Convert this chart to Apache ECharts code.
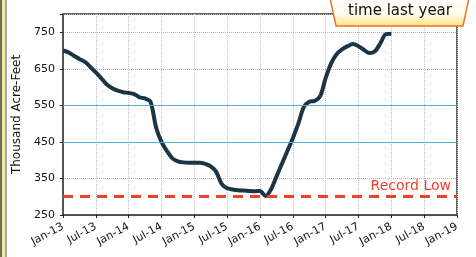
<!DOCTYPE html>
<html>
<head>
<meta charset="utf-8">
<script src="https://cdn.jsdelivr.net/npm/echarts@6/dist/echarts.min.js"></script>
<style>
  html, body { margin: 0; padding: 0; background: #fff; }
  #chart { width: 476px; height: 257px; }
</style>
</head>
<body>
<div id="chart"></div>
<script>
// months since Jan-13
const months = [
  0, 1, 2, 3, 4, 5, 6, 7, 8, 9, 10, 11, 12, 13, 14, 15, 16, 17, 18, 19, 20,
  21, 22, 23, 24, 25, 26, 27, 28, 29, 30, 31, 32, 33, 34, 35, 36, 37, 38, 39, 40,
  41, 42, 43, 44, 45, 46, 47, 48, 49, 50, 51, 52, 53, 54, 55, 56, 57, 58, 59, 60
]
// storage, thousand acre-feet
const storage = [
  700, 695, 686, 677, 669, 655, 640, 624, 607, 597, 590, 586, 584, 581, 572, 569, 560, 490, 450, 425, 405,
  397, 394, 393, 393, 393, 390, 383, 368, 335, 323, 320, 318, 317, 316, 315, 316, 302, 320, 355, 390,
  425, 460, 500, 545, 560, 562, 575, 625, 665, 690, 703, 712, 718, 712, 702, 693, 698, 720, 745, 746
]
const tickLabels = ['Jan-13', 'Jul-13', 'Jan-14', 'Jul-14', 'Jan-15', 'Jul-15', 'Jan-16',
  'Jul-16', 'Jan-17', 'Jul-17', 'Jan-18', 'Jul-18', 'Jan-19']
const recordLow = 300
const blueLines = [450, 550]

const chart = echarts.init(document.getElementById('chart'))
const font = 'DejaVu Sans'

chart.setOption({
  animation: false,
  grid: { left: 63, right: 19, top: 14, bottom: 42 },
  xAxis: {
    type: 'value',
    min: 0,
    max: 72,
    interval: 6,
    axisLine: { lineStyle: { color: '#222', width: 1.5 } },
    axisTick: { show: true, length: 3, lineStyle: { color: '#222' } },
    axisLabel: {
      rotate: 28,
      fontFamily: font,
      fontSize: 11,
      color: '#111',
      margin: 11,
      formatter: v => tickLabels[v / 6]
    },
    splitLine: { show: true, lineStyle: { color: '#c4c0d4', type: 'dotted', width: 1 } }
  },
  yAxis: {
    type: 'value',
    min: 250,
    max: 800,
    interval: 100,
    name: 'Thousand Acre-Feet',
    nameLocation: 'middle',
    nameGap: 40,
    nameTextStyle: { fontFamily: font, fontSize: 12, color: '#111' },
    axisLine: { show: true, lineStyle: { color: '#222', width: 1.5 } },
    axisTick: { show: true, length: 3, lineStyle: { color: '#222' } },
    axisLabel: {
      fontFamily: font,
      fontSize: 11,
      color: '#111',
      margin: 8,
      formatter: v => (v === 800 ? '' : String(v))
    },
    splitLine: { show: true, lineStyle: { color: '#b4b4bc', type: 'dotted', width: 1 } }
  },
  graphic: [
    { type: 'rect', shape: { x: 0, y: 0, width: 5, height: 257 }, style: { fill: '#f3e9a0' } },
    { type: 'line', shape: { x1: 1, y1: 0, x2: 1, y2: 257 }, style: { stroke: '#444', lineWidth: 1.5 } },
    { type: 'line', shape: { x1: 6, y1: 0, x2: 6, y2: 257 }, style: { stroke: '#555', lineWidth: 1 } },
    { type: 'line', shape: { x1: 63, y1: 14, x2: 457, y2: 14 }, style: { stroke: '#333', lineWidth: 1.5 } },
    { type: 'line', shape: { x1: 457, y1: 14, x2: 457, y2: 215 }, style: { stroke: '#333', lineWidth: 1.5 } },
    {
      type: 'polygon',
      shape: { points: [[330, -2], [469, -2], [463, 26], [336, 26]] },
      style: {
        fill: new echarts.graphic.LinearGradient(0, 0, 0, 1, [
          { offset: 0, color: '#ffffff' },
          { offset: 0.6, color: '#fffbe8' },
          { offset: 1, color: '#fbe27a' }
        ]),
        stroke: '#e8742a',
        lineWidth: 1.5
      },
      z: 10
    },
    {
      type: 'text',
      x: 400,
      y: 11,
      style: {
        text: 'time last year',
        fontFamily: font,
        fontSize: 15,
        fill: '#111',
        align: 'center',
        verticalAlign: 'middle'
      },
      z: 11
    }
  ],
  series: [
    {
      type: 'line',
      data: [],
      z: 1,
      markLine: {
        silent: true,
        symbol: 'none',
        label: { show: false },
        lineStyle: { color: '#4fb3cf', type: 'solid', width: 1 },
        data: blueLines.map(v => ({ yAxis: v }))
      }
    },
    {
      type: 'line',
      data: months.map((m, i) => [m, storage[i]]),
      showSymbol: false,
      smooth: 0.3,
      lineStyle: { color: '#1b3545', width: 4 },
      z: 3,
      markLine: {
        silent: true,
        symbol: 'none',
        lineStyle: { color: '#f2402a', type: [10, 7], width: 3 },
        label: {
          show: true,
          position: 'insideEndTop',
          formatter: 'Record Low',
          fontFamily: font,
          fontSize: 14,
          color: '#f2402a',
          distance: [6, 3]
        },
        data: [{ yAxis: recordLow }]
      }
    }
  ]
})
</script>
</body>
</html>
